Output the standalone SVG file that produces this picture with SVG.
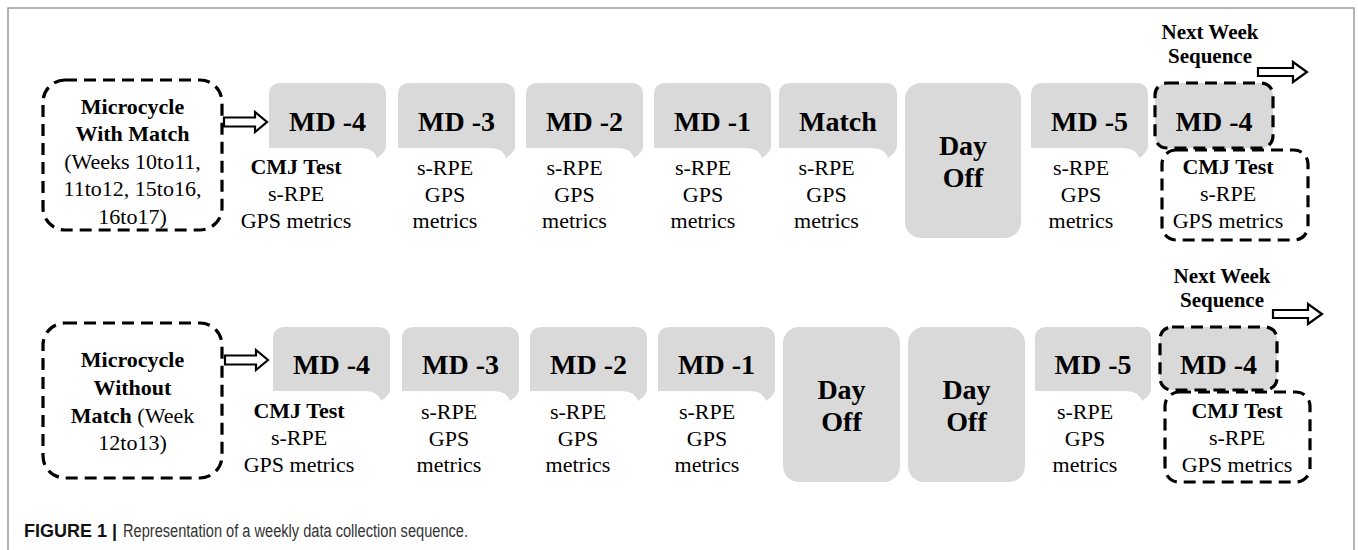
<svg xmlns="http://www.w3.org/2000/svg" width="1358" height="550" viewBox="0 0 1358 550">
<style>
.frame{fill:none;stroke:#9a9a9a;stroke-width:1.5}
.bub{fill:#d9d9d9}
.dash{fill:none;stroke:#000;stroke-width:3.2;stroke-dasharray:12 7}
.dashg{fill:#d9d9d9;stroke:#000;stroke-width:3.2;stroke-dasharray:12 7}
.arr{fill:#fff;stroke:#000;stroke-width:2.2;stroke-linejoin:miter}
text{font-family:"Liberation Serif","Times New Roman",serif;fill:#000;text-anchor:middle}
.md{font-size:28px;font-weight:bold}
.b{font-size:22px}
.bb{font-size:22px;font-weight:bold}
.nw{font-size:21px;font-weight:bold}
.cap{font-family:"Liberation Sans",Arial,sans-serif;text-anchor:start;font-size:18px;fill:#333}
.capb{font-family:"Liberation Sans",Arial,sans-serif;text-anchor:start;font-size:18px;font-weight:bold;fill:#111}
</style>
<rect class="frame" x="8" y="8" width="1346" height="600"/>

<g id="start1">
<rect class="dash" x="43" y="80" width="179" height="150" rx="22"/>
<text class="bb" x="132.5" y="114">Microcycle</text>
<text class="bb" x="132.5" y="141">With Match</text>
<text class="b" x="132.5" y="168.5">(Weeks 10to11,</text>
<text class="b" x="132.5" y="196">11to12, 15to16,</text>
<text class="b" x="132.5" y="223.5">16to17)</text>
</g>
<g id="r1-md4">
<path class="bub" d="M269,148 V95 Q269,83 281,83 H374 Q386,83 386,95 V146 Q386,152 377,158 Q374,148 360,148 Z"/>
<text class="md" x="327.5" y="131">MD -4</text>
<text class="bb" x="296" y="174">CMJ Test</text>
<text class="b" x="296" y="201">s-RPE</text>
<text class="b" x="296" y="228">GPS metrics</text>
</g>
<g id="r1-md3">
<path class="bub" d="M398,148 V95 Q398,83 410,83 H503 Q515,83 515,95 V146 Q515,152 506,158 Q503,148 489,148 Z"/>
<text class="md" x="456.5" y="131">MD -3</text>
<text class="b" x="445" y="175">s-RPE</text>
<text class="b" x="445" y="202">GPS</text>
<text class="b" x="445" y="228">metrics</text>
</g>
<g id="r1-md2">
<path class="bub" d="M526,148 V95 Q526,83 538,83 H631 Q643,83 643,95 V146 Q643,152 634,158 Q631,148 617,148 Z"/>
<text class="md" x="584.5" y="131">MD -2</text>
<text class="b" x="574.5" y="175">s-RPE</text>
<text class="b" x="574.5" y="202">GPS</text>
<text class="b" x="574.5" y="228">metrics</text>
</g>
<g id="r1-md1">
<path class="bub" d="M654,148 V95 Q654,83 666,83 H759 Q771,83 771,95 V146 Q771,152 762,158 Q759,148 745,148 Z"/>
<text class="md" x="712.5" y="131">MD -1</text>
<text class="b" x="703" y="175">s-RPE</text>
<text class="b" x="703" y="202">GPS</text>
<text class="b" x="703" y="228">metrics</text>
</g>
<g id="r1-match">
<path class="bub" d="M779,148 V95 Q779,83 791,83 H885 Q897,83 897,95 V146 Q897,152 888,158 Q885,148 871,148 Z"/>
<text class="md" x="838" y="131">Match</text>
<text class="b" x="826.5" y="175">s-RPE</text>
<text class="b" x="826.5" y="202">GPS</text>
<text class="b" x="826.5" y="228">metrics</text>
</g>
<g id="r1-off">
<rect class="bub" x="905" y="83" width="116" height="155" rx="16"/>
<text class="md" x="963" y="155">Day</text>
<text class="md" x="963" y="187">Off</text>
</g>
<g id="r1-md5">
<path class="bub" d="M1031,148 V95 Q1031,83 1043,83 H1136 Q1148,83 1148,95 V146 Q1148,152 1139,158 Q1136,148 1122,148 Z"/>
<text class="md" x="1089.5" y="131">MD -5</text>
<text class="b" x="1081" y="175">s-RPE</text>
<text class="b" x="1081" y="202">GPS</text>
<text class="b" x="1081" y="228">metrics</text>
</g>
<g id="r1-next">
<text class="nw" x="1210" y="39">Next Week</text>
<text class="nw" x="1210" y="63">Sequence</text>
<rect class="dashg" x="1155" y="83" width="118" height="65" rx="12"/>
<text class="md" x="1214" y="131">MD -4</text>
<rect class="dash" x="1162" y="150" width="146" height="90" rx="14"/>
<text class="bb" x="1228" y="174">CMJ Test</text>
<text class="b" x="1228" y="201">s-RPE</text>
<text class="b" x="1228" y="228">GPS metrics</text>
</g>

<g id="start2">
<rect class="dash" x="43" y="323" width="179" height="155" rx="22"/>
<text class="bb" x="132.5" y="367">Microcycle</text>
<text class="bb" x="132.5" y="395">Without</text>
<text class="b" x="132.5" y="423"><tspan font-weight="bold">Match</tspan> (Week</text>
<text class="b" x="132.5" y="450">12to13)</text>
</g>
<g id="r2-md4">
<path class="bub" d="M273,391 V339 Q273,327 285,327 H378 Q390,327 390,339 V389 Q390,395 381,401 Q378,391 364,391 Z"/>
<text class="md" x="331.5" y="374">MD -4</text>
<text class="bb" x="299" y="418">CMJ Test</text>
<text class="b" x="299" y="445">s-RPE</text>
<text class="b" x="299" y="472">GPS metrics</text>
</g>
<g id="r2-md3">
<path class="bub" d="M402,391 V339 Q402,327 414,327 H507 Q519,327 519,339 V389 Q519,395 510,401 Q507,391 493,391 Z"/>
<text class="md" x="460.5" y="374">MD -3</text>
<text class="b" x="449" y="419">s-RPE</text>
<text class="b" x="449" y="446">GPS</text>
<text class="b" x="449" y="472">metrics</text>
</g>
<g id="r2-md2">
<path class="bub" d="M530,391 V339 Q530,327 542,327 H635 Q647,327 647,339 V389 Q647,395 638,401 Q635,391 621,391 Z"/>
<text class="md" x="588.5" y="374">MD -2</text>
<text class="b" x="578" y="419">s-RPE</text>
<text class="b" x="578" y="446">GPS</text>
<text class="b" x="578" y="472">metrics</text>
</g>
<g id="r2-md1">
<path class="bub" d="M658,391 V339 Q658,327 670,327 H763 Q775,327 775,339 V389 Q775,395 766,401 Q763,391 749,391 Z"/>
<text class="md" x="716.5" y="374">MD -1</text>
<text class="b" x="707" y="419">s-RPE</text>
<text class="b" x="707" y="446">GPS</text>
<text class="b" x="707" y="472">metrics</text>
</g>
<g id="r2-off1">
<rect class="bub" x="783" y="327" width="117" height="155" rx="16"/>
<text class="md" x="841.5" y="399">Day</text>
<text class="md" x="841.5" y="431">Off</text>
</g>
<g id="r2-off2">
<rect class="bub" x="908" y="327" width="117" height="155" rx="16"/>
<text class="md" x="966.5" y="399">Day</text>
<text class="md" x="966.5" y="431">Off</text>
</g>
<g id="r2-md5">
<path class="bub" d="M1035,391 V339 Q1035,327 1047,327 H1139 Q1151,327 1151,339 V389 Q1151,395 1142,401 Q1139,391 1125,391 Z"/>
<text class="md" x="1093" y="374">MD -5</text>
<text class="b" x="1085" y="419">s-RPE</text>
<text class="b" x="1085" y="446">GPS</text>
<text class="b" x="1085" y="472">metrics</text>
</g>
<g id="r2-next">
<text class="nw" x="1222" y="283">Next Week</text>
<text class="nw" x="1222" y="307">Sequence</text>
<rect class="dashg" x="1160" y="327" width="117" height="63" rx="12"/>
<text class="md" x="1218.5" y="374">MD -4</text>
<rect class="dash" x="1165" y="392" width="145" height="90" rx="14"/>
<text class="bb" x="1237" y="418">CMJ Test</text>
<text class="b" x="1237" y="445">s-RPE</text>
<text class="b" x="1237" y="472">GPS metrics</text>
</g>

<g id="connectors">
<polygon class="arr" points="224,117.5 255,117.5 255,112 267,122 255,132 255,126.5 224,126.5"/>
<polygon class="arr" points="225,355.5 256,355.5 256,350 268,360 256,370 256,364.5 225,364.5"/>
<polygon class="arr" points="1258,68 1293,68 1293,62 1307,72 1293,82 1293,76 1258,76"/>
<polygon class="arr" points="1273,310 1308,310 1308,304 1322,314 1308,324 1308,318 1273,318"/>
</g>

<text class="capb" x="24" y="537" textLength="93" lengthAdjust="spacingAndGlyphs">FIGURE 1 |</text>
<text class="cap" x="123" y="537" textLength="345" lengthAdjust="spacingAndGlyphs">Representation of a weekly data collection sequence.</text>
</svg>
